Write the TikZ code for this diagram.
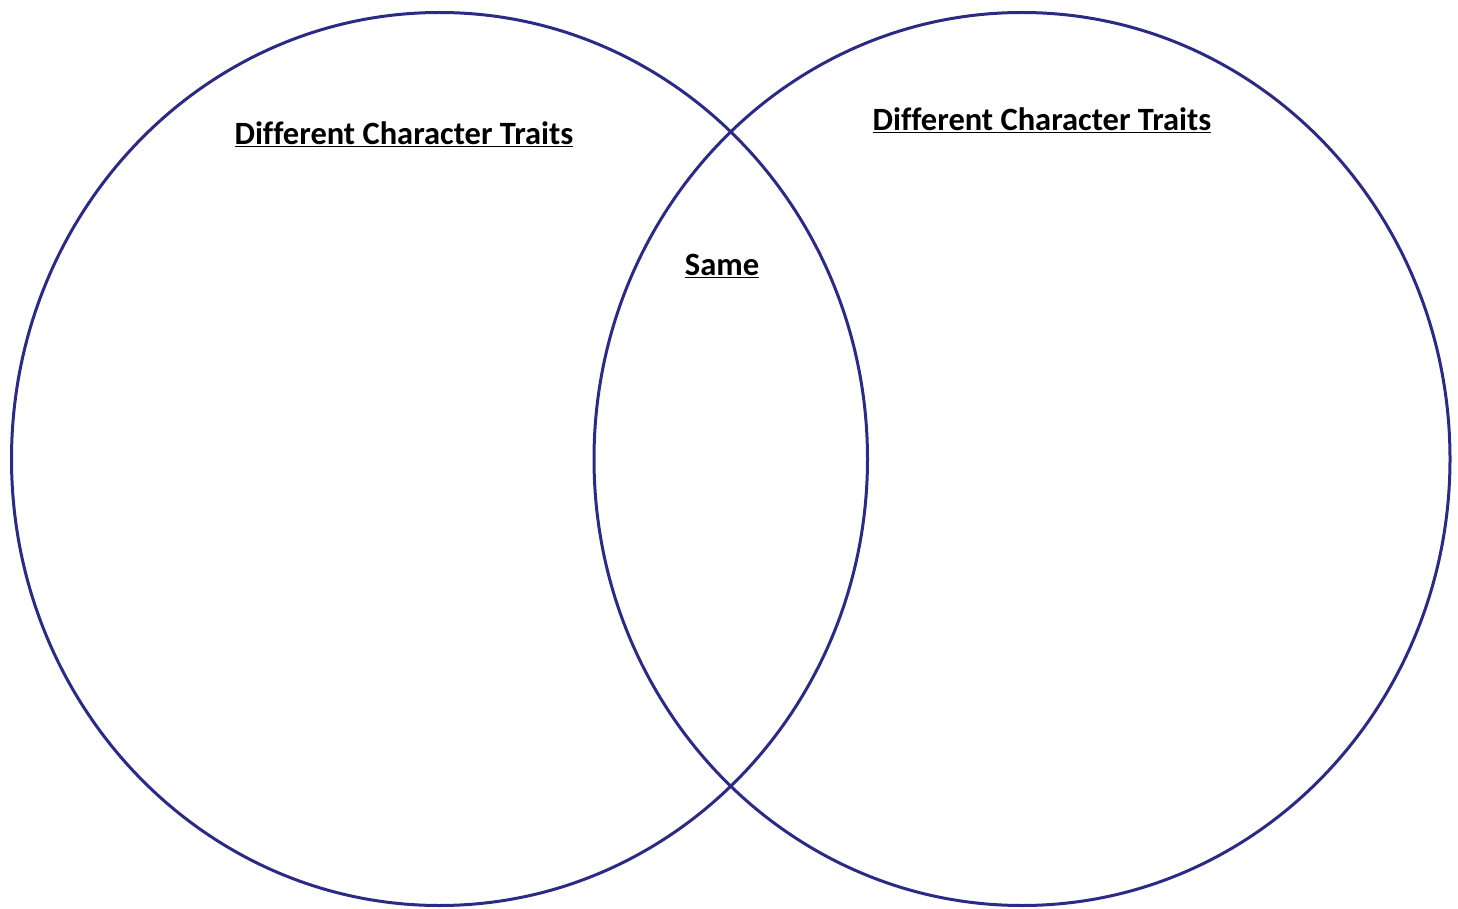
\documentclass[tikz,border=0pt]{standalone}
\usepackage{fontspec}
\setmainfont[Ligatures=NoCommon]{Carlito}
\usetikzlibrary{shapes.geometric}
\definecolor{vennblue}{HTML}{2B2A85}

\begin{document}
\begin{tikzpicture}[x=1pt, y=-1pt,
  setring/.style={ellipse, draw=vennblue, line width=3pt, inner sep=0pt,
                  minimum width=856pt, minimum height=893pt},
  heading/.style={font=\fontsize{32.5}{38}\selectfont\bfseries, inner sep=0pt}
]
  \useasboundingbox (0,0) rectangle (1458,909);
  \node[setring] (leftset) at (439.5,459) {};
  \node[setring] (rightset) at (1022,459) {};
  \node[heading] (lefttitle) at (404,134) {\underline{Different Character Traits}};
  \node[heading] (righttitle) at (1042,120) {\underline{Different Character Traits}};
  \node[heading] (same) at (722,266) {\underline{Same}};
\end{tikzpicture}
\end{document}
